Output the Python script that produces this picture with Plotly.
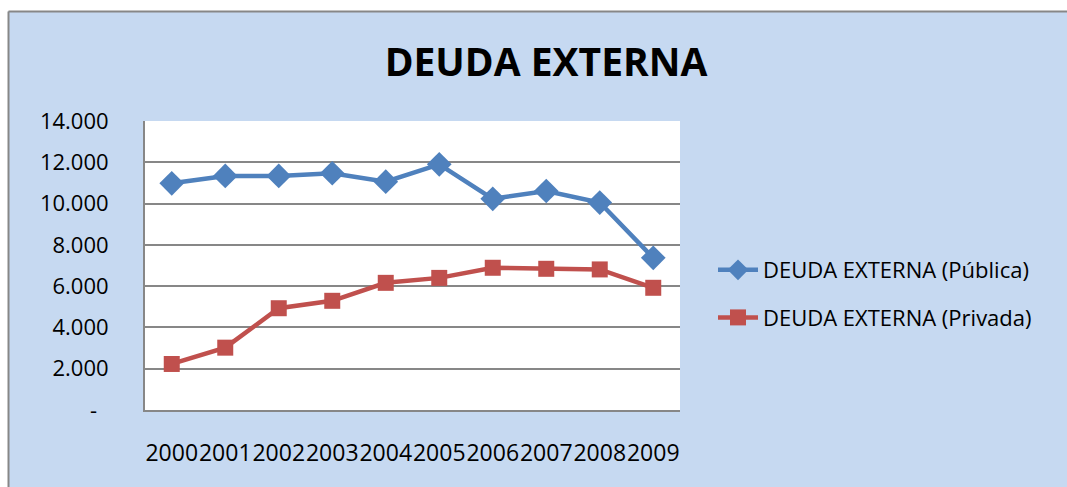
import plotly.graph_objects as go

years = ["2000", "2001", "2002", "2003", "2004", "2005", "2006", "2007", "2008", "2009"]
publica = [10980, 11340, 11340, 11470, 11060, 11900, 10230, 10610, 10050, 7370]
privada = [2230, 3020, 4930, 5290, 6160, 6400, 6890, 6840, 6810, 5920]
tick_vals = [0, 2000, 4000, 6000, 8000, 10000, 12000, 14000]
tick_text = ["-\u00a0\u00a0", "2.000", "4.000", "6.000", "8.000", "10.000", "12.000", "14.000"]

BLUE = "#4F81BD"
RED = "#C0504D"
BG = "#C6D9F1"
FONT = "Open Sans"

fig = go.Figure()
fig.add_trace(go.Scatter(x=years, y=publica, mode="lines+markers", name="DEUDA EXTERNA (Pública)",
                         legendgroup="a",
                         line=dict(color=BLUE, width=4.5),
                         marker=dict(symbol="diamond", size=19, color=BLUE)))
fig.add_trace(go.Scatter(x=years, y=privada, mode="lines+markers", name="DEUDA EXTERNA (Privada)",
                         legendgroup="b",
                         line=dict(color=RED, width=4.5),
                         marker=dict(symbol="square", size=16, color=RED)))

L, R, T, B = 145, 680, 121, 410
W, H = 1067, 487
pw, ph = R - L, B - T

def px(x):
    return (x - L) / pw

def py(y):
    return (B - y) / ph

shapes = [
    dict(type="rect", xref="paper", yref="paper", x0=px(-5), x1=px(W + 5), y0=py(11), y1=py(-5),
         fillcolor="white", line=dict(width=0), layer="below"),
    dict(type="rect", xref="paper", yref="paper", x0=px(-5), x1=px(8), y0=py(H + 5), y1=py(-5),
         fillcolor="white", line=dict(width=0), layer="below"),
    dict(type="line", xref="paper", yref="paper", x0=px(8.5), x1=px(W + 5), y0=py(11.5), y1=py(11.5),
         line=dict(color="#878787", width=2)),
    dict(type="line", xref="paper", yref="paper", x0=px(8.5), x1=px(8.5), y0=py(11.5), y1=py(H + 5),
         line=dict(color="#878787", width=2)),
]

fig.update_layout(
    width=W, height=H,
    margin=dict(l=L, r=W - R, t=T, b=H - B, autoexpand=False),
    paper_bgcolor=BG, plot_bgcolor="white",
    font=dict(family=FONT, color="black", size=22),
    title=dict(text="<b>DEUDA EXTERNA</b>", x=546 / W, xanchor="center", y=1 - 62 / H, yanchor="middle",
               font=dict(family=FONT, size=39, color="black")),
    showlegend=True,
    legend=dict(x=px(713), y=py(294), xanchor="left", yanchor="middle", bgcolor="rgba(0,0,0,0)",
                font=dict(family=FONT, size=22, color="black"), itemwidth=40, tracegroupgap=16),
    shapes=shapes,
)
fig.update_xaxes(type="category", range=[-0.5, len(years) - 0.5], showgrid=False, showline=True,
                 linecolor="#878787", linewidth=2,
                 ticks="", ticklabelstandoff=21, tickfont=dict(size=23), tickangle=0,
                 zeroline=False, automargin=False)
fig.update_yaxes(range=[0, 14000], tickvals=tick_vals, ticktext=tick_text, showgrid=True,
                 gridcolor="#878787", gridwidth=1.5, showline=True, linecolor="#878787", linewidth=2,
                 ticks="", ticklabelstandoff=30, zeroline=False, tickfont=dict(size=22), automargin=False)

fig.write_html("out.html", config={"displayModeBar": False},
               post_script="document.body.style.margin='0';document.body.style.overflow='hidden';")
